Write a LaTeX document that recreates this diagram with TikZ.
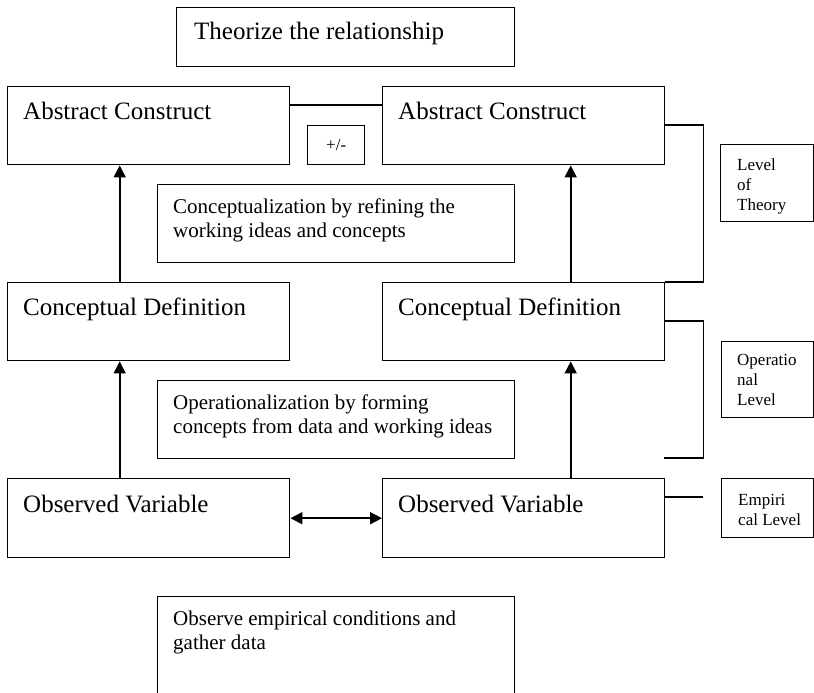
\documentclass[tikz,border=0pt]{standalone}
\usepackage{fontspec}
\setmainfont{Liberation Serif}
\usetikzlibrary{arrows.meta}
\begin{document}
\begin{tikzpicture}[x=1pt,y=-1pt,
  box/.style={draw, line width=1.4pt, rectangle, inner sep=0pt, anchor=north west},
  txt/.style={anchor=base west, inner sep=0pt},
  big/.style={font=\fontsize{25}{30}\selectfont},
  mid/.style={font=\fontsize{21}{24}\selectfont},
  sml/.style={font=\fontsize{17}{20}\selectfont},
  ln/.style={line width=1.4pt},
  tip/.tip={Triangle[length=12pt,width=12pt]},
  arr/.style={line width=1.7pt, -tip},
  darr/.style={line width=1.7pt, tip-tip},
]
\useasboundingbox (0,0) rectangle (814,693);
\clip (0,0) rectangle (814,693);

% boxes
\node[box, minimum width=338pt, minimum height=59pt] (theo) at (176,7) {};
\node[txt,big] (theoT) at (194,40) {Theorize the relationship};

\node[box, minimum width=282pt, minimum height=78pt] (ac1) at (7,86) {};
\node[txt,big] (ac1T) at (23,119) {Abstract Construct};
\node[box, minimum width=282pt, minimum height=78pt] (ac2) at (382,86) {};
\node[txt,big] (ac2T) at (398,119) {Abstract Construct};

\node[box, minimum width=57pt, minimum height=39pt] (pm) at (307,125) {};
\node[sml, inner sep=0pt] (pmT) at (pm.center) {+/-};

\node[box, minimum width=357pt, minimum height=78pt] (conc) at (157,184) {};
\node[txt,mid] (concT) at (173,213) {\vtop{\hbox{Conceptualization by refining the}\hbox{working ideas and concepts}}};

\node[box, minimum width=282pt, minimum height=78pt] (cd1) at (7,282) {};
\node[txt,big] (cd1T) at (23,315) {Conceptual Definition};
\node[box, minimum width=282pt, minimum height=78pt] (cd2) at (382,282) {};
\node[txt,big] (cd2T) at (398,315) {Conceptual Definition};

\node[box, minimum width=357pt, minimum height=78pt] (oper) at (157,380) {};
\node[txt,mid] (operT) at (173,409) {\vtop{\hbox{Operationalization by forming}\hbox{concepts from data and working ideas}}};

\node[box, minimum width=282pt, minimum height=79pt] (ov1) at (7,478) {};
\node[txt,big] (ov1T) at (23,512) {Observed Variable};
\node[box, minimum width=282pt, minimum height=79pt] (ov2) at (382,478) {};
\node[txt,big] (ov2T) at (398,512) {Observed Variable};

\node[box, minimum width=357pt, minimum height=130pt] (obs) at (157,596) {};
\node[txt,mid] (obsT) at (173,625) {\vtop{\hbox{Observe empirical conditions and}\hbox{gather data}}};

\node[box, minimum width=93pt, minimum height=77pt] (lt) at (720,144) {};
\node[txt,sml] (ltT) at (737,170) {\vtop{\hbox{Level}\hbox{of}\hbox{Theory}}};
\node[box, minimum width=92pt, minimum height=76pt] (ol) at (721,341) {};
\node[txt,sml] (olT) at (737,365) {\vtop{\hbox{Operatio}\hbox{nal}\hbox{Level}}};
\node[box, minimum width=92pt, minimum height=59pt] (el) at (721,478) {};
\node[txt,sml] (elT) at (738,505) {\vtop{\hbox{Empiri}\hbox{cal Level}}};

% connectors
\draw[ln] ([yshift=-19pt]ac1.north east) -- ([yshift=-19pt]ac2.north west);
\draw[arr] ([xshift=-29pt]cd1.north) -- ([xshift=-29pt]ac1.south);
\draw[arr] ([xshift=47pt]cd2.north) -- ([xshift=47pt]ac2.south);
\draw[arr] ([xshift=-29pt]ov1.north) -- ([xshift=-29pt]cd1.south);
\draw[arr] ([xshift=47pt]ov2.north) -- ([xshift=47pt]cd2.south);
\draw[darr] (ov1.east) -- (ov2.west);

\draw[ln] ([yshift=-39pt]ac2.north east) -- ++(38,0) |- (cd2.north east);
\coordinate (b2) at (664,458);
\draw[ln] ([yshift=-39pt]cd2.north east) -- ++(38,0) |- (b2);
\coordinate (e1) at (703,497);
\draw[ln] ([yshift=-19pt]ov2.north east) -- (e1);
\end{tikzpicture}
\end{document}
